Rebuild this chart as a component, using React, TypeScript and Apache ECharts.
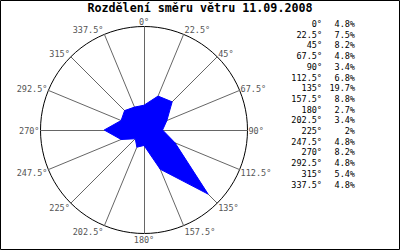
import React, { useEffect, useRef } from "react";
import * as echarts from "echarts";

const title = "Rozdělení směru větru 11.09.2008";
const directions = [0, 22.5, 45, 67.5, 90, 112.5, 135, 157.5, 180, 202.5, 225, 247.5, 270, 292.5, 315, 337.5];
const percents = [4.8, 7.5, 8.2, 4.8, 3.4, 6.8, 19.7, 8.8, 2.7, 3.4, 2, 4.8, 8.2, 4.8, 5.4, 4.8];
const radialMin = -0.8;
const radialMax = 22.6;

const MONO = "'DejaVu Sans Mono', 'Liberation Mono', monospace";
const CX = 144;
const CY = 130;
const R = 103.5;

export default function App() {
  const ref = useRef<HTMLDivElement>(null);
  useEffect(() => {
    if (!ref.current) return;
    const chart = echarts.init(ref.current, null, { renderer: "svg" });
    // radar runs counter-clockwise from the top; reorder so the compass goes clockwise
    const order = [0];
    for (let i = directions.length - 1; i >= 1; i--) order.push(i);
    const indicators = order.map((i) => ({ name: directions[i] + "°", min: radialMin, max: radialMax }));
    const values = order.map((i) => percents[i]);

    // direction labels just outside the circle
    const dirLabels: any[] = directions.map((d) => {
      const a = (d * Math.PI) / 180;
      const s = Math.sin(a);
      const c = Math.cos(a);
      const ex = CX + R * s;
      const ey = CY - R * c;
      let align = "center";
      let x = ex;
      if (s > 0.05) { align = "left"; x = ex + 1; }
      else if (s < -0.05) { align = "right"; x = ex - 1; }
      const y = ey + 1 - c * 5.5;
      return {
        type: "text", x, y,
        style: { text: d + "°", align, verticalAlign: "middle", font: `8.5px ${MONO}`, fill: "#555", lineHeight: 9 },
      };
    });

    const legendTexts: any[] = [];
    directions.forEach((d, i) => {
      const y = 24 + i * 10.7;
      legendTexts.push({
        type: "text", x: 322, y,
        style: { text: d + "°", align: "right", verticalAlign: "middle", font: `8.5px ${MONO}`, fill: "#000" },
      });
      legendTexts.push({
        type: "text", x: 355, y,
        style: { text: percents[i] + "%", align: "right", verticalAlign: "middle", font: `8.5px ${MONO}`, fill: "#000" },
      });
    });

    chart.setOption({
      animation: false,
      backgroundColor: "#fff",
      title: {
        text: title, left: "center", top: 2, padding: 0,
        textStyle: { fontFamily: MONO, fontWeight: "bold", fontSize: 11.7, lineHeight: 12, color: "#000" },
      },
      radar: {
        center: [CX, CY],
        radius: R,
        shape: "circle",
        startAngle: 90,
        splitNumber: 1,
        indicator: indicators,
        axisName: { show: false },
        axisLine: { lineStyle: { color: "#666", width: 1 } },
        splitLine: { lineStyle: { color: "#000", width: 1 } },
        splitArea: { show: false },
        axisTick: { show: false },
        axisLabel: { show: false },
      },
      series: [{
        type: "radar",
        symbol: "none",
        data: [{ value: values }],
        lineStyle: { color: "#0000ff", width: 1 },
        areaStyle: { color: "#0000ff", opacity: 1 },
      }],
      graphic: [
        { type: "rect", shape: { x: 0.5, y: 0.5, width: 399, height: 249 }, style: { fill: "none", stroke: "#000", lineWidth: 1 }, z: 100 },
        ...dirLabels,
        ...legendTexts,
      ],
    });
    return () => chart.dispose();
  }, []);
  return <div ref={ref} style={{ position: "fixed", left: 0, top: 0, width: 400, height: 250 }} />;
}
